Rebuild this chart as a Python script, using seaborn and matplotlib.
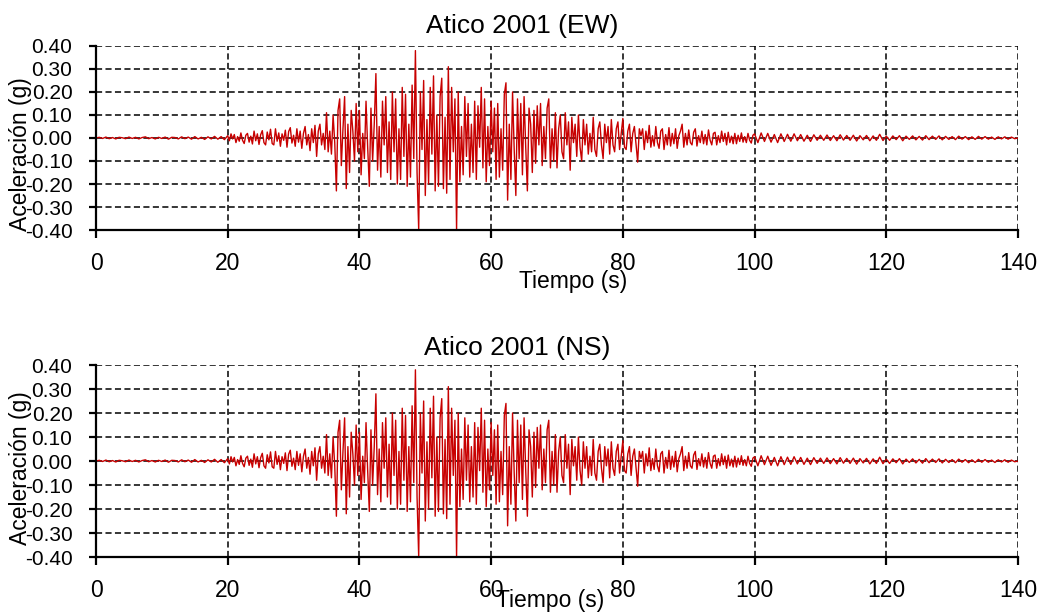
import numpy as np
import pandas as pd
import matplotlib
matplotlib.use("Agg")
import matplotlib.pyplot as plt
import seaborn as sns

# ---------------- data ----------------
titles = ["Atico 2001 (EW)", "Atico 2001 (NS)"]
x_label = "Tiempo (s)"
y_label = "Aceleración (g)"
x_ticks = [0, 20, 40, 60, 80, 100, 120, 140]
y_ticks = [-0.40, -0.30, -0.20, -0.10, 0.00, 0.10, 0.20, 0.30, 0.40]

# sampling times of the read values (s)
t_quiet = np.arange(0.0, 20.0, 0.5)      # 40 samples
t_onset = np.arange(20.0, 34.0, 0.25)    # 56 samples
t_strong = np.arange(34.0, 70.0, 0.25)   # 144 samples
t_decay = np.arange(70.0, 100.0, 0.25)   # 120 samples
t_tail = np.arange(100.0, 140.01, 0.5)   # 81 samples

acc_quiet = [
    0.000, 0.003, -0.002, 0.004, -0.003, 0.002, -0.004, 0.003, 0.001, -0.003,
    0.004, -0.002, 0.003, -0.004, 0.002, 0.005, -0.003, 0.002, -0.004, 0.003,
    -0.002, 0.004, -0.005, 0.003, 0.002, -0.004, 0.005, -0.003, 0.004, -0.005,
    0.006, -0.004, 0.003, -0.006, 0.005, -0.004, 0.007, -0.005, 0.006, -0.007,
]
acc_onset = [
    0.010, -0.012, 0.018, -0.004,
    0.015, -0.020, 0.006, -0.014,
    0.022, -0.010, -0.024, 0.012,
    0.020, -0.018, 0.008, -0.026,
    0.030, -0.012, 0.018, -0.028,
    0.014, 0.032, -0.020, -0.030,
    0.026, -0.008, 0.038, -0.024,
    -0.030, 0.040, -0.014, 0.022,
    -0.036, 0.018, -0.010, 0.034,
    -0.040, 0.028, 0.045, -0.022,
    0.012, -0.036, 0.040, -0.018,
    0.030, -0.045, 0.020, 0.050,
    -0.030, 0.015, -0.055, 0.040,
    -0.020, 0.055, -0.080, 0.030,
]
acc_strong = [
    0.060, -0.030, 0.020, -0.050,
    0.110, -0.060, 0.030, -0.070,
    0.100, -0.020, -0.230, 0.120,
    0.170, -0.120, 0.040, 0.180,
    -0.220, 0.060, -0.150, 0.120,
    0.030, -0.100, 0.150, -0.060,
    0.120, -0.160, 0.020, -0.090,
    0.160, -0.040, -0.210, 0.130,
    -0.100, 0.060, 0.280, -0.140,
    0.050, -0.170, 0.160, -0.030,
    0.180, -0.150, 0.070, -0.180,
    0.200, -0.060, 0.170, -0.200,
    0.040, -0.180, 0.220, -0.080,
    0.190, -0.210, 0.060, -0.170,
    0.230, -0.090, 0.380, -0.150,
    -0.400, 0.200, -0.050, 0.250,
    -0.250, 0.080, -0.200, 0.220,
    -0.070, 0.270, -0.230, 0.100,
    -0.210, 0.180, 0.260, -0.220,
    0.090, -0.240, 0.310, -0.180,
    0.220, -0.060, 0.170, -0.400,
    0.200, -0.190, 0.050, -0.160,
    0.180, -0.080, 0.150, -0.170,
    0.060, -0.150, 0.160, -0.180,
    0.140, -0.040, 0.220, -0.130,
    0.170, -0.190, 0.050, -0.120,
    0.160, -0.060, 0.130, -0.180,
    0.150, -0.170, 0.040, -0.140,
    0.190, 0.240, -0.270, 0.060,
    -0.180, 0.200, -0.050, -0.250,
    0.170, -0.090, 0.150, -0.160,
    0.180, -0.040, -0.230, 0.130,
    0.060, -0.150, 0.120, -0.110,
    0.140, -0.030, 0.150, -0.120,
    0.050, -0.090, 0.130, 0.170,
    -0.130, 0.040, -0.100, 0.110,
]
acc_decay = [
    -0.130, 0.040, 0.100, -0.060,
    -0.090, 0.110, -0.030, 0.070,
    -0.140, 0.090, -0.020, 0.060,
    -0.080, 0.100, -0.040, -0.100,
    0.080, -0.030, 0.060, -0.070,
    0.020, -0.060, 0.090, -0.050,
    -0.080, 0.040, 0.070, -0.030,
    -0.090, 0.060, -0.020, 0.050,
    -0.070, 0.080, -0.030, -0.060,
    0.040, 0.070, -0.050, 0.020,
    0.085, -0.040, -0.050, 0.030,
    0.060, -0.060, 0.020, 0.050,
    -0.030, -0.105, 0.040, 0.010,
    0.040, -0.050, 0.030, -0.020,
    0.055, -0.040, 0.010, -0.035,
    0.050, -0.020, -0.045, 0.030,
    0.040, -0.050, 0.015, -0.030,
    0.045, -0.035, 0.020, -0.025,
    0.040, -0.045, 0.010, 0.030,
    0.060, -0.040, 0.020, -0.030,
    0.035, -0.020, -0.030, 0.025,
    0.040, -0.035, 0.010, -0.020,
    0.030, -0.025, 0.015, -0.030,
    0.035, -0.010, -0.030, 0.020,
    0.025, -0.030, 0.010, -0.020,
    0.030, -0.015, 0.020, -0.030,
    0.025, -0.020, 0.008, -0.025,
    0.020, -0.025, 0.012, -0.015,
    0.022, -0.018, 0.006, -0.020,
    0.020, -0.010, -0.022, 0.012,
]
acc_tail = [
    0.018, -0.020, 0.022, -0.015, 0.020, -0.018, 0.015, -0.020, 0.018, -0.015,
    0.016, -0.014, 0.018, -0.012, 0.015, -0.014, 0.012, -0.015, 0.014, -0.010,
    0.012, -0.010, 0.013, -0.011, 0.010, -0.012, 0.014, -0.009, 0.011, -0.010,
    0.012, -0.013, 0.010, -0.008, 0.011, -0.012, 0.009, -0.010, 0.016, -0.011,
    0.008, -0.010, 0.009, -0.007, 0.010, -0.012, 0.008, -0.006, 0.009, -0.008,
    0.007, -0.009, 0.010, -0.007, 0.008, -0.006, 0.009, -0.008, 0.007, -0.006,
    0.006, -0.007, 0.008, -0.005, 0.006, -0.007, 0.005, -0.006, 0.007, -0.005,
    0.006, -0.005, 0.004, -0.006, 0.005, -0.004, 0.005, -0.005, 0.004, -0.003,
    0.000,
]

time_s = np.concatenate([t_quiet, t_onset, t_strong, t_decay, t_tail])
acc_g = np.array(acc_quiet + acc_onset + acc_strong + acc_decay + acc_tail)
records = pd.DataFrame({"t": time_s, "a": acc_g})

# ---------------- styling ----------------
sns.set_theme(style="white")
plt.rcParams["font.family"] = ["Liberation Sans", "DejaVu Sans"]

fig = plt.figure(figsize=(10.47, 6.14), dpi=100)
ax_boxes = [
    [0.0917, 0.6254, 0.8806, 0.2997],
    [0.0917, 0.0928, 0.8806, 0.3127],
]
title_pos = [(0.462, 1.0707), (0.457, 1.052)]
xlabel_y = [-0.218, -0.168]
xlabel_x = [0.517, 0.492]
ylabel_y = [0.413, 0.464]

line_color = "#C80000"

for i, box in enumerate(ax_boxes):
    ax = fig.add_axes(box)
    sns.lineplot(data=records, x="t", y="a", ax=ax, color=line_color,
                 linewidth=1.0, estimator=None, sort=False)
    ax.set_xlim(0, 140)
    ax.set_ylim(-0.40, 0.40)
    ax.set_xticks(x_ticks)
    ax.set_xticklabels([str(v) for v in x_ticks], fontsize=16.5)
    ax.set_yticks(y_ticks)
    ax.set_yticklabels([("%.2f" % v).replace("-0.00", "0.00") for v in y_ticks],
                       fontsize=15)
    ax.grid(True, color="black", linestyle=(0, (4, 2.2)), linewidth=1.1)
    ax.set_axisbelow(True)
    for side in ["top", "right"]:
        ax.spines[side].set_visible(False)
    for side in ["left", "bottom"]:
        ax.spines[side].set_visible(True)
        ax.spines[side].set_color("black")
        ax.spines[side].set_linewidth(1.6)
        ax.spines[side].set_zorder(5)
    ax.tick_params(axis="x", which="major", direction="out", length=6,
                   width=1.6, color="black", pad=10, bottom=True, labelcolor="black")
    ax.tick_params(axis="y", which="major", direction="out", length=5,
                   width=1.6, color="black", pad=12, left=True, labelcolor="black")
    ax.text(title_pos[i][0], title_pos[i][1], titles[i], transform=ax.transAxes,
            ha="center", va="baseline", fontsize=19, color="black")
    ax.set_xlabel(x_label, fontsize=16.5, color="black")
    ax.xaxis.set_label_coords(xlabel_x[i], xlabel_y[i])
    ax.xaxis.label.set_va("top")
    ax.set_ylabel(y_label, fontsize=16.5, color="black")
    ax.yaxis.set_label_coords(-0.069, ylabel_y[i])

fig.savefig("out.png", dpi=100, facecolor="white")
